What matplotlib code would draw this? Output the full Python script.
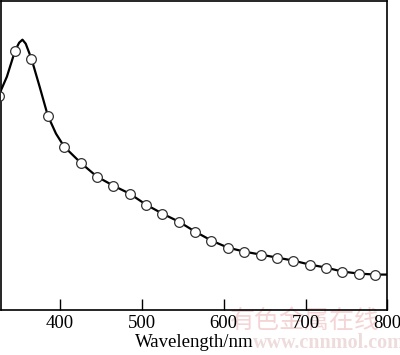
import matplotlib
matplotlib.use('Agg')
import matplotlib.pyplot as plt
import numpy as np

# absorption spectrum, arbitrary units (no y scale on the original)
lineWl = [326, 335, 340, 345, 350, 354, 358, 365, 375, 385, 395, 405, 425, 445, 465, 485, 505,
          525, 545, 565, 585, 605, 625, 645, 665, 685, 705, 725, 745, 765, 785, 800]
lineAbs = [216, 233, 246, 259, 267, 270, 266, 251, 223, 194, 176, 163, 147, 133, 124, 116, 105,
           96, 88, 78, 69, 62, 58, 55, 52, 49, 45, 42, 38, 36, 35, 35]

markWl = [325, 345, 365, 385, 405, 425, 445, 465, 485, 505, 525, 545, 565, 585,
          605, 625, 645, 665, 685, 705, 725, 745, 765, 785]
markAbs = [214, 259, 251, 194, 163, 147, 133, 124, 116, 105, 96, 88, 78, 69,
           62, 58, 55, 52, 49, 45, 42, 38, 36, 35]

xTicks = [400, 500, 600, 700, 800]

plt.rcParams['font.family'] = ['Liberation Serif', 'DejaVu Serif']

fig = plt.figure(figsize=(4.0, 3.55), dpi=100)

# faint site watermark, drawn behind the axes
fig.text(0.575, 0.095, '有色金属在线', fontsize=18, color='#f4d4d4',
         family=['Noto Sans CJK SC'], ha='left', va='center', zorder=-5)
fig.text(1.012, 0.033, 'www.cnnmol.com', fontsize=14.5, color='#eedcdc',
         fontweight='bold', ha='right', va='center', zorder=-5)

ax = fig.add_axes([0.0025, 0.128, 0.966, 0.870])
ax.patch.set_alpha(0)

ax.plot(lineWl, lineAbs, color='black', lw=1.6, zorder=2)
ax.plot(markWl, markAbs, 'o', ms=7, mfc='white', mec='#333333', mew=0.9, zorder=3)

ax.set_xlim(327.8, 800)
ax.set_ylim(0, 309)
ax.set_xticks(xTicks)
ax.set_yticks([])
ax.tick_params(axis='x', direction='in', length=8, width=1, labelsize=13.5, pad=4)
for s in ax.spines.values():
    s.set_linewidth(1.2)

ax.set_xlabel('Wavelength/nm', fontsize=13.5, labelpad=1)

fig.savefig('out.png', dpi=100)
